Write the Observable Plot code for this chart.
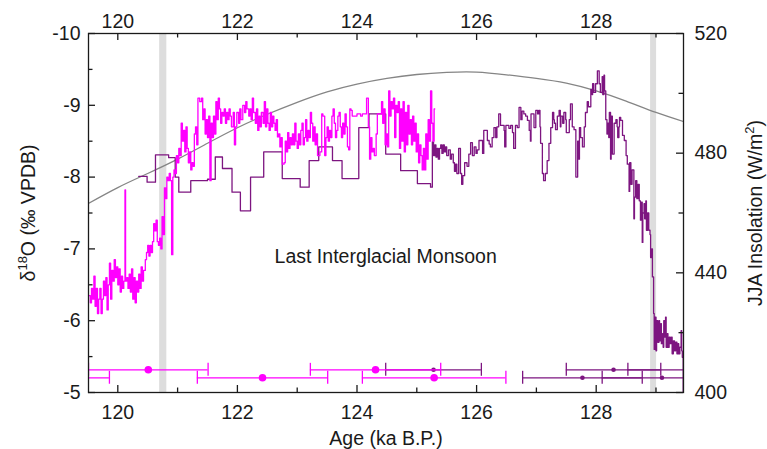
<!DOCTYPE html>
<html><head><meta charset="utf-8">
<script src="https://cdn.jsdelivr.net/npm/d3@7"></script>
<script src="https://cdn.jsdelivr.net/npm/@observablehq/plot@0.6"></script>
<style>html,body{margin:0;padding:0;background:#fff;}</style>
</head><body><div id="chart"></div>
<script>
// ---------- data (age ka B.P., δ18O ‰) ----------
const magenta = [[119.51,-6.35],[119.54,-6.25],[119.56,-6.45],[119.58,-6.30],[119.60,-6.62],[119.62,-6.20],[119.64,-6.45],[119.66,-6.10],[119.68,-6.30],[119.70,-6.45],[119.72,-6.10],[119.74,-6.30],[119.76,-6.55],[119.78,-6.35],[119.80,-6.60],[119.82,-6.15],[119.84,-6.50],[119.86,-6.80],[119.88,-6.30],[119.90,-6.70],[119.92,-6.55],[119.94,-6.85],[119.96,-6.60],[119.98,-6.75],[120.00,-6.50],[120.02,-6.72],[120.04,-6.40],[120.06,-6.62],[120.08,-6.45],[120.10,-6.55],[120.12,-7.82],[120.13,-6.55],[120.15,-6.60],[120.17,-6.45],[120.19,-6.65],[120.21,-6.40],[120.23,-6.72],[120.25,-6.30],[120.27,-6.60],[120.29,-6.25],[120.31,-6.55],[120.33,-6.40],[120.35,-6.65],[120.37,-6.45],[120.39,-6.75],[120.41,-6.55],[120.43,-6.70],[120.46,-6.85],[120.48,-6.95],[120.50,-7.05],[120.52,-6.90],[120.54,-7.05],[120.56,-6.95],[120.58,-7.10],[120.60,-7.35],[120.62,-7.25],[120.64,-7.40],[120.66,-7.10],[120.68,-7.05],[120.70,-7.15],[120.72,-7.00],[120.74,-7.45],[120.76,-7.20],[120.78,-7.85],[120.80,-7.70],[120.82,-8.00],[120.84,-7.95],[120.86,-8.05],[120.88,-7.95],[120.90,-6.92],[120.92,-8.00],[120.94,-8.10],[120.96,-8.05],[120.98,-8.30],[121.00,-8.20],[121.02,-8.40],[121.04,-8.30],[121.06,-8.75],[121.08,-8.50],[121.10,-8.65],[121.12,-8.35],[121.14,-8.70],[121.16,-8.40],[121.18,-8.20],[121.20,-8.35],[121.22,-8.10],[121.24,-8.20],[121.26,-8.15],[121.28,-8.60],[121.30,-8.70],[121.32,-8.45],[121.34,-9.10],[121.37,-9.05],[121.40,-9.10],[121.42,-8.80],[121.44,-8.95],[121.46,-8.60],[121.48,-8.80],[121.50,-8.55],[121.52,-8.85],[121.54,-7.95],[121.56,-8.75],[121.58,-8.55],[121.60,-8.85],[121.62,-8.60],[121.64,-9.05],[121.66,-8.80],[121.68,-9.10],[121.70,-8.95],[121.72,-8.75],[121.74,-8.90],[121.76,-8.85],[121.78,-8.95],[121.80,-8.75],[121.82,-8.90],[121.84,-8.80],[121.86,-8.95],[121.88,-8.85],[121.90,-8.70],[121.93,-8.90],[121.95,-8.45],[121.97,-8.70],[121.99,-8.90],[122.02,-8.75],[122.04,-8.95],[122.06,-8.80],[122.09,-9.00],[122.12,-8.90],[122.14,-9.05],[122.16,-8.95],[122.19,-8.85],[122.21,-8.95],[122.23,-8.80],[122.25,-9.10],[122.27,-8.90],[122.30,-8.75],[122.32,-8.95],[122.34,-8.65],[122.36,-8.85],[122.38,-8.70],[122.40,-8.90],[122.43,-8.75],[122.45,-9.05],[122.47,-8.70],[122.49,-8.95],[122.51,-8.75],[122.53,-8.65],[122.55,-8.90],[122.57,-8.70],[122.59,-8.85],[122.61,-8.75],[122.63,-8.65],[122.65,-8.80],[122.67,-8.56],[122.69,-8.60],[122.71,-8.42],[122.73,-8.55],[122.75,-8.18],[122.78,-8.20],[122.80,-8.50],[122.82,-8.35],[122.84,-8.62],[122.86,-8.40],[122.88,-8.55],[122.90,-8.45],[122.92,-8.60],[122.94,-8.45],[122.96,-8.75],[122.98,-8.50],[123.00,-8.40],[123.02,-8.60],[123.04,-8.45],[123.06,-8.65],[123.08,-8.75],[123.10,-8.45],[123.12,-8.55],[123.14,-8.80],[123.16,-8.50],[123.18,-8.65],[123.20,-8.55],[123.22,-8.90],[123.24,-8.75],[123.26,-8.50],[123.28,-8.70],[123.30,-8.45],[123.32,-8.60],[123.34,-8.30],[123.36,-8.30],[123.38,-8.35],[123.41,-8.88],[123.43,-8.85],[123.46,-8.30],[123.48,-8.55],[123.50,-8.70],[123.52,-8.50],[123.54,-8.65],[123.56,-8.55],[123.58,-8.85],[123.60,-8.95],[123.62,-8.75],[123.64,-8.55],[123.66,-8.65],[123.68,-8.85],[123.70,-8.90],[123.72,-8.70],[123.74,-8.55],[123.76,-8.75],[123.78,-8.60],[123.80,-8.88],[123.82,-8.70],[123.84,-8.42],[123.86,-8.38],[123.88,-8.95],[123.90,-8.93],[123.92,-8.85],[124.00,-8.88],[124.06,-8.85],[124.09,-8.88],[124.14,-8.88],[124.16,-9.10],[124.19,-8.70],[124.21,-8.25],[124.23,-8.55],[124.25,-8.35],[124.27,-8.40],[124.29,-8.30],[124.32,-8.60],[124.34,-8.88],[124.38,-8.88],[124.41,-9.05],[124.43,-8.75],[124.45,-8.95],[124.47,-8.45],[124.49,-8.60],[124.51,-8.42],[124.53,-9.20],[124.55,-8.85],[124.57,-9.05],[124.59,-8.95],[124.61,-9.10],[124.63,-8.55],[124.65,-9.00],[124.67,-8.90],[124.69,-9.05],[124.71,-8.40],[124.73,-8.95],[124.75,-8.50],[124.77,-9.05],[124.79,-8.35],[124.81,-8.90],[124.83,-8.45],[124.85,-9.00],[124.87,-8.60],[124.89,-8.80],[124.91,-8.45],[124.93,-8.85],[124.95,-8.50],[124.97,-8.75],[124.99,-8.35],[125.01,-8.60],[125.03,-8.20],[125.05,-8.45],[125.07,-8.30],[125.09,-8.10],[125.11,-8.40],[125.13,-8.10],[125.15,-8.60],[125.17,-8.25],[125.19,-8.80],[125.21,-8.50],[125.23,-9.20],[125.25,-8.75],[125.27,-8.50],[125.29,-8.95],[125.30,-8.95]];

const darkPurple = [[120.35,-8.01],[120.49,-7.93],[120.63,-8.31],[120.85,-8.27],[120.96,-8.00],[121.02,-7.79],[121.22,-7.95],[121.50,-7.97],[121.63,-8.28],[121.75,-8.12],[121.91,-7.79],[122.05,-7.53],[122.22,-8.00],[122.44,-8.35],[122.75,-7.98],[123.05,-7.86],[123.20,-8.23],[123.36,-8.42],[123.59,-8.23],[123.75,-7.98],[124.03,-8.69],[124.20,-8.88],[124.48,-8.32],[124.73,-8.09],[125.01,-7.91],[125.23,-7.86],
[125.26,-8.49],[125.28,-8.30],[125.30,-8.45],[125.32,-8.28],[125.34,-8.40],[125.36,-8.25],[125.38,-8.40],[125.40,-8.45],[125.42,-8.33],[125.44,-8.45],[125.46,-8.35],[125.48,-8.42],[125.50,-8.30],[125.53,-8.38],[125.56,-8.25],[125.58,-8.32],[125.61,-8.20],[125.63,-8.08],[125.65,-8.18],[125.67,-8.05],[125.70,-8.40],[125.73,-8.05],[125.75,-7.90],[125.77,-8.02],[125.80,-8.20],[125.84,-8.15],[125.87,-8.32],[125.90,-8.48],[125.93,-8.30],[125.96,-8.42],[125.99,-8.33],[126.01,-8.38],[126.04,-8.51],[126.10,-8.33],[126.12,-8.65],[126.18,-8.51],[126.21,-8.46],[126.23,-8.42],[126.26,-8.55],[126.29,-8.69],[126.32,-8.55],[126.34,-8.70],[126.37,-8.88],[126.40,-8.72],[126.46,-8.65],[126.47,-8.42],[126.49,-8.72],[126.54,-8.68],[126.57,-8.72],[126.60,-8.62],[126.62,-8.40],[126.65,-8.72],[126.68,-8.69],[126.71,-8.97],[126.74,-8.80],[126.76,-8.92],[126.79,-8.88],[126.82,-8.85],[126.85,-8.79],[126.88,-8.65],[126.90,-8.50],[126.91,-8.88],[126.96,-8.69],[126.99,-8.93],[127.02,-8.88],[127.04,-8.93],[127.06,-8.70],[127.07,-8.47],[127.10,-8.05],[127.12,-7.95],[127.15,-8.05],[127.18,-8.23],[127.21,-8.47],[127.24,-8.69],[127.27,-8.90],[127.29,-8.80],[127.30,-8.75],[127.32,-8.66],[127.35,-8.85],[127.38,-8.93],[127.40,-8.70],[127.41,-8.85],[127.44,-8.75],[127.46,-8.90],[127.49,-8.80],[127.50,-8.62],[127.55,-8.80],[127.57,-9.02],[127.60,-8.70],[127.63,-8.66],[127.66,-8.00],[127.69,-8.50],[127.71,-8.25],[127.72,-8.69],[127.74,-8.55],[127.77,-8.42],[127.80,-8.70],[127.82,-8.90],[127.85,-9.05],[127.87,-8.98],[127.91,-9.22],[127.93,-9.15],[127.94,-9.30],[127.96,-9.18],[127.99,-9.30],[128.02,-9.48],[128.05,-9.30],[128.07,-9.18],[128.10,-9.40],[128.11,-9.15],[128.13,-9.42],[128.14,-9.20],[128.16,-8.80],[128.18,-8.60],[128.19,-8.75],[128.21,-8.55],[128.22,-8.90],[128.24,-8.25],[128.25,-8.85],[128.27,-8.32],[128.30,-8.75],[128.33,-8.80],[128.35,-8.70],[128.36,-8.55],[128.38,-8.70],[128.39,-8.83],[128.41,-8.79],[128.44,-8.58],[128.47,-8.51],[128.50,-8.30],[128.52,-8.18],[128.55,-7.80],[128.56,-8.20],[128.58,-7.90],[128.60,-8.10],[128.63,-7.42],[128.64,-7.72],[128.66,-7.95],[128.68,-7.70],[128.70,-7.90],[128.72,-7.67],[128.74,-7.40],[128.76,-7.65],[128.77,-7.09],[128.78,-7.50],[128.80,-7.63],[128.81,-7.42],[128.83,-7.67],[128.84,-7.26],[128.86,-7.50],[128.88,-7.26],[128.90,-7.20],[128.91,-6.88],[128.93,-7.00],[128.94,-6.61],[128.96,-6.10],[128.97,-5.60],[128.98,-6.05],[129.00,-5.58],[129.01,-6.00],[129.03,-5.70],[129.05,-6.00],[129.06,-5.72],[129.08,-5.96],[129.09,-5.68],[129.11,-5.82],[129.12,-5.63],[129.13,-6.00],[129.15,-5.77],[129.16,-6.05],[129.17,-5.63],[129.19,-5.82],[129.20,-5.63],[129.22,-5.77],[129.24,-5.68],[129.26,-5.77],[129.27,-5.54],[129.29,-5.72],[129.31,-5.58],[129.33,-5.70],[129.35,-5.54],[129.37,-5.68],[129.38,-5.54],[129.40,-5.63],[129.42,-5.86],[129.43,-5.58],[129.44,-5.49],[129.455,-4.80]];

// JJA insolation (W/m2)
const insolAge   = [119.5,120,120.5,121,121.5,122,122.5,123,123.5,124,124.5,125,125.5,126,126.5,127,127.5,128,128.5,129,129.5];
const insolValue = [463.1,468.5,473.2,478,483.3,488.5,493,497,500.5,503.1,505,506.3,507,507.1,506.2,505,503.4,500.8,497.4,493.6,490.3];

// grey bands (ka)
const bandStart = [120.70, 128.91];
const bandEnd   = [120.82, 129.01];

// U-Th dates with 2σ errors
const dateAgeMagenta = [118.90, 120.51, 122.42, 124.31, 125.29];
const dateErrMagenta = [0.96, 1.00, 1.09, 1.09, 1.20];
const dateLvlMagenta = [-5.205, -5.316, -5.205, -5.316, -5.205];
const dateAgeDark = [125.28, 127.77, 128.29, 129.10, 129.60];
const dateErrDark = [0.80, 1.00, 0.79, 1.00, 1.07];
const dateLvlDark = [-5.316, -5.205, -5.316, -5.205, -5.316];

// ticks
const ageMajor = [120, 122, 124, 126, 128];
const ageMinor = [121, 123, 125, 127, 129];
const d18OMajor = [-10, -9, -8, -7, -6, -5];
const d18OMinor = [-9.5, -8.5, -7.5, -6.5, -5.5];
const insolMajor = [400, 440, 480, 520];
const insolMinor = [420, 460, 500];

const annotations = [{label: "Last Interglacial Monsoon", age: 124.48, d18O: -6.89}];

// ---------- chart ----------
const W = 767, H = 449, mL = 88, mR = 84, mT = 33, mB = 57;
const innerW = W - mL - mR, innerH = H - mT - mB;
const FS = 19.5;
const FONT = "'Liberation Sans', Arial, Helvetica, sans-serif";
const PURPLE = "#7d1580", MAGENTA = "#ff00ff", INSOL = "#858585", BAND = "#dddddd", INK = "#1a1a1a";
const CAP = 0.09;

const toD = v => -5 - (v - 400) / 120 * 5;
const fromD = d => 400 - (d + 5) / 5 * 120;

const magData = magenta.map(([age, d]) => ({age, d}));
const darkData = darkPurple.map(([age, d]) => ({age, d}));
const insolData = insolAge.map((age, i) => ({age, v: insolValue[i]}));
const bandData = bandStart.map((s, i) => ({start: s, end: bandEnd[i]}));
const mkDates = (a, e, l) => a.map((age, i) => ({age, err: e[i], y: l[i]}));
const datesM = mkDates(dateAgeMagenta, dateErrMagenta, dateLvlMagenta);
const datesD = mkDates(dateAgeDark, dateErrDark, dateLvlDark);
const caps = ds => ds.flatMap(d => [{x: d.age - d.err, y: d.y}, {x: d.age + d.err, y: d.y}]);

function errorMarks(ds, color, r) {
  return [
    Plot.ruleY(ds, {y: "y", x1: d => d.age - d.err, x2: d => d.age + d.err, stroke: color, strokeWidth: 1.3, clip: true}),
    Plot.ruleX(caps(ds), {x: "x", y1: d => d.y - CAP, y2: d => d.y + CAP, stroke: color, strokeWidth: 1.3, clip: true}),
    Plot.dot(ds, {x: "age", y: "y", r, fill: color, stroke: "none", clip: true})
  ];
}

const chart = Plot.plot({
  width: W, height: H,
  marginLeft: mL, marginRight: mR, marginTop: mT, marginBottom: mB,
  style: {fontFamily: FONT, fontSize: FS + "px", background: "#fff", color: INK},
  x: {domain: [119.51, 129.46], axis: null},
  y: {domain: [-5, -10], axis: null},
  marks: [
    Plot.rect(bandData, {x1: "start", x2: "end", fill: BAND}),
    Plot.line(insolData, {x: "age", y: d => toD(d.v), stroke: INSOL, strokeWidth: 1.3, curve: "natural", clip: true}),
    Plot.line(darkData, {x: "age", y: "d", stroke: PURPLE, strokeWidth: 1.3, curve: "step-after", clip: true}),
    Plot.line(magData, {x: "age", y: "d", stroke: MAGENTA, strokeWidth: 1.3, curve: "step-after", clip: true}),
    ...errorMarks(datesD, PURPLE, 2.3),
    ...errorMarks(datesM, MAGENTA, 3.8),
    Plot.text(annotations, {x: "age", y: "d18O", text: "label", fontSize: FS, fill: INK}),
    Plot.frame({stroke: INK, strokeWidth: 1.3}),
    // inward ticks
    Plot.tickX(ageMajor, {x: d => d, insetTop: innerH - 7, stroke: INK, strokeWidth: 1.3}),
    Plot.tickX(ageMinor, {x: d => d, insetTop: innerH - 4.5, stroke: INK, strokeWidth: 1.3}),
    Plot.tickX(ageMajor, {x: d => d, insetBottom: innerH - 7, stroke: INK, strokeWidth: 1.3}),
    Plot.tickX(ageMinor, {x: d => d, insetBottom: innerH - 4.5, stroke: INK, strokeWidth: 1.3}),
    Plot.tickY(d18OMajor, {y: d => d, insetRight: innerW - 7, stroke: INK, strokeWidth: 1.3}),
    Plot.tickY(d18OMinor, {y: d => d, insetRight: innerW - 4.5, stroke: INK, strokeWidth: 1.3}),
    Plot.tickY(insolMajor, {y: toD, insetLeft: innerW - 7, stroke: INK, strokeWidth: 1.3}),
    Plot.tickY(insolMinor, {y: toD, insetLeft: innerW - 4.5, stroke: INK, strokeWidth: 1.3}),
    // tick labels
    Plot.axisX(ageMajor, {anchor: "bottom", tickSize: 0, tickPadding: 13, fontSize: FS, tickFormat: d => String(d), label: null}),
    Plot.axisX(ageMajor, {anchor: "top", tickSize: 0, tickPadding: 6, fontSize: FS, tickFormat: d => String(d), label: null}),
    Plot.axisY(d18OMajor, {anchor: "left", tickSize: 0, tickPadding: 8, fontSize: FS, tickFormat: d => String(d), label: null}),
    Plot.axisY(insolMajor.map(toD), {anchor: "right", tickSize: 0, tickPadding: 11, fontSize: FS, tickFormat: d => String(Math.round(fromD(d))), label: null}),
    // axis titles
    Plot.text(["Age (ka B.P.)"], {text: d => d, frameAnchor: "bottom", dy: 46, fontSize: FS, textAnchor: "middle", lineAnchor: "middle", fill: INK}),
    Plot.text(["δ18O (‰ VPDB)"], {text: d => d, frameAnchor: "left", dx: -60, rotate: -90, fontSize: FS, textAnchor: "middle", lineAnchor: "middle", fill: INK}),
    Plot.text(["JJA Insolation (W/m2)"], {text: d => d, frameAnchor: "right", dx: 72, rotate: -90, fontSize: FS, textAnchor: "middle", lineAnchor: "middle", fill: INK})
  ]
});

// superscripts in axis titles
function superscript(textEl, before, sup, after) {
  const ns = "http://www.w3.org/2000/svg";
  textEl.textContent = "";
  const a = document.createElementNS(ns, "tspan"); a.textContent = before;
  const b = document.createElementNS(ns, "tspan"); b.textContent = sup;
  b.setAttribute("font-size", "13"); b.setAttribute("dy", "-8");
  const c = document.createElementNS(ns, "tspan"); c.textContent = after; c.setAttribute("dy", "8");
  textEl.append(a, b, c);
}
chart.querySelectorAll("text").forEach(t => {
  if (t.textContent === "δ18O (‰ VPDB)") superscript(t, "δ", "18", "O (‰ VPDB)");
  else if (t.textContent === "JJA Insolation (W/m2)") superscript(t, "JJA Insolation (W/m", "2", ")");
});

document.getElementById("chart").append(chart);
</script>
</body></html>
